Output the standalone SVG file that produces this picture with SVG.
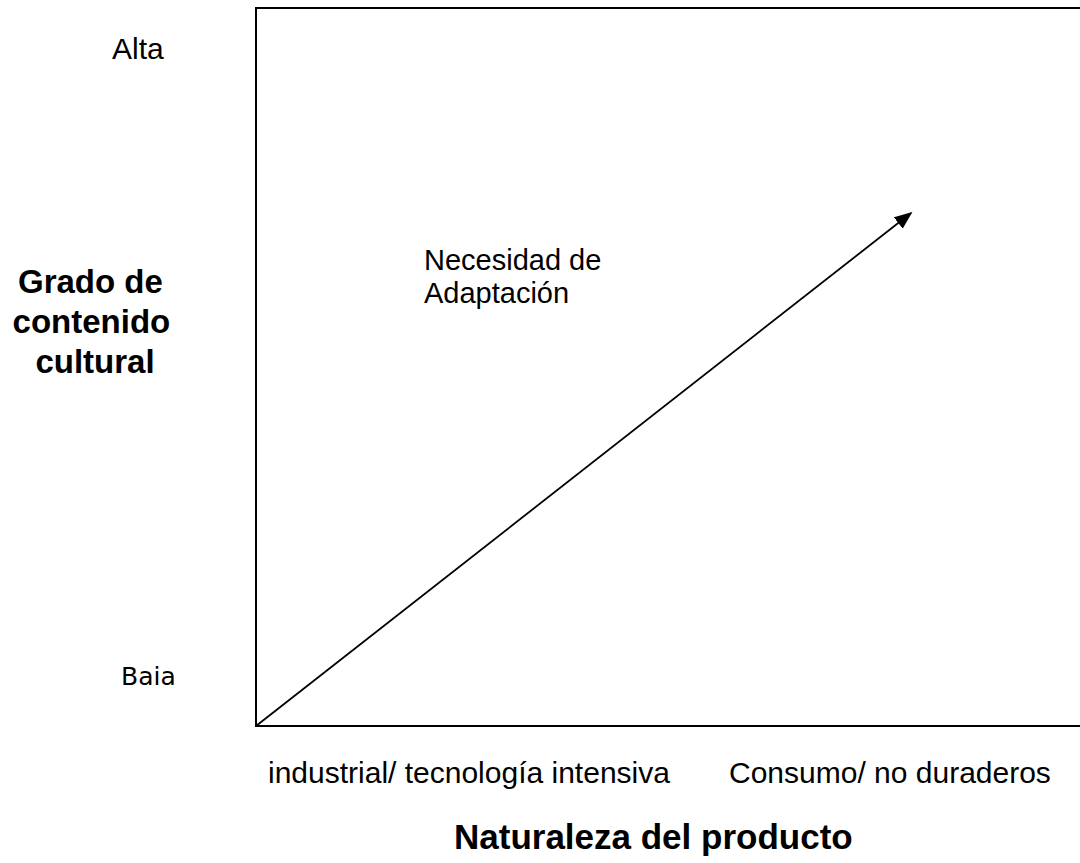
<svg xmlns="http://www.w3.org/2000/svg" width="1080" height="863" viewBox="0 0 1080 863">
<style>
.t{font-family:"Liberation Sans",Arial,sans-serif;fill:#000}
.b{font-weight:bold}
.ax{fill:none;stroke:#000;stroke-width:2}
</style>
<defs>
<marker id="ah" markerWidth="10" markerHeight="8" refX="9" refY="4" orient="auto" markerUnits="strokeWidth">
<path d="M0,0 L10,4 L0,8 Z" fill="#000"/>
</marker>
</defs>
<rect width="1080" height="863" fill="#fff"/>
<g id="frame">
<path class="ax" d="M1082,8 H256 V726 H1082"/>
</g>
<g id="connectors">
<line x1="256" y1="726" x2="911" y2="213" stroke="#000" stroke-width="1.8" marker-end="url(#ah)"/>
</g>
<g id="y-labels">
<text class="t" x="112" y="59" font-size="30">Alta</text>
<text x="121" y="685" font-size="25" font-family="DejaVu Sans,sans-serif">Baia</text>
</g>
<g id="y-title">
<text class="t b" font-size="33" text-anchor="middle">
<tspan x="95" y="293">Grado de</tspan>
<tspan x="96" y="333">contenido</tspan>
<tspan x="95" y="373">cultural</tspan>
</text>
</g>
<g id="arrow-label">
<text class="t" font-size="29">
<tspan x="424" y="270">Necesidad de</tspan>
<tspan x="424" y="303">Adaptación</tspan>
</text>
</g>
<g id="x-labels">
<text class="t" x="268" y="783" font-size="30">industrial/ tecnología intensiva</text>
<text class="t" x="729" y="783" font-size="30">Consumo/ no duraderos</text>
</g>
<g id="x-title">
<text class="t b" x="454" y="849" font-size="35">Naturaleza del producto</text>
</g>
</svg>
